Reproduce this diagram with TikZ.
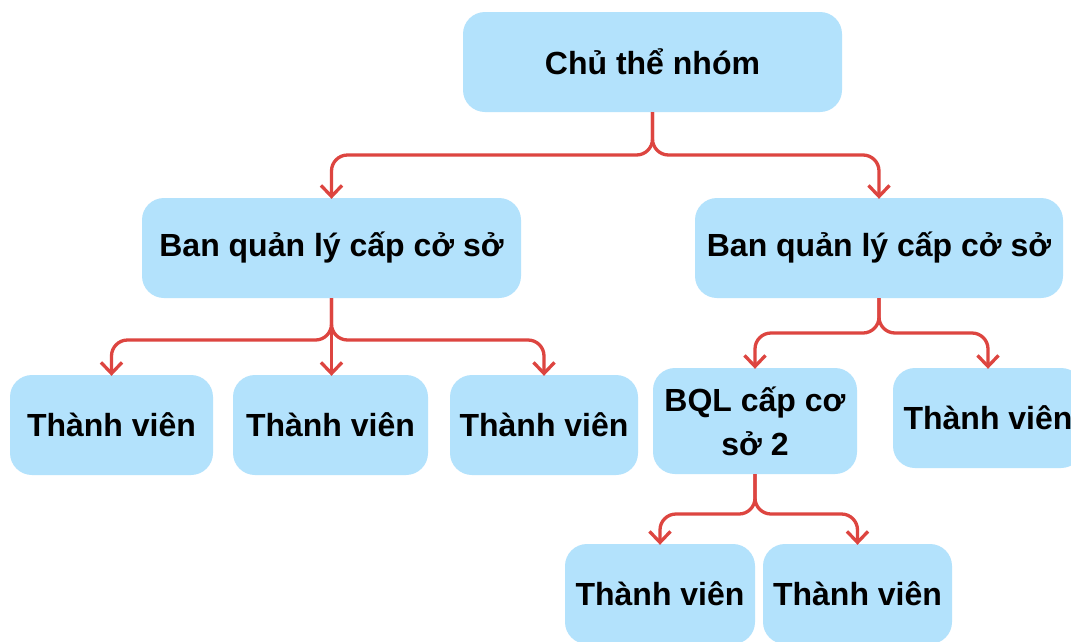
\documentclass[tikz,border=0pt]{standalone}
\usepackage{fontspec}
\setmainfont{Liberation Sans}
\usetikzlibrary{arrows.meta}
\definecolor{boxfill}{HTML}{B3E2FC}
\definecolor{linkred}{HTML}{DD4540}
\tikzset{
  box/.style={fill=boxfill, draw=none, rounded corners=22pt, inner sep=0pt,
    font=\fontsize{32}{44}\selectfont\bfseries, text=black, align=center},
  link/.style={draw=linkred, line width=3.3pt, rounded corners=16pt,
    -{Straight Barb[length=11pt,width=21pt,line width=3.3pt]}},
}
\begin{document}
\begin{tikzpicture}[x=1pt,y=-1pt]
\useasboundingbox (0,0) rectangle (1071,641);
\fill[white] (0,0) rectangle (1071,641);
\node[box, minimum width=379pt, minimum height=100pt] (root) at (652.5,62) {Chủ thể nhóm};
\node[box, minimum width=379pt, minimum height=100pt] (ba) at (331.5,248) {Ban quản lý cấp cở sở};
\node[box, minimum width=368pt, minimum height=100pt] (bb) at (879,248) {Ban quản lý cấp cở sở};
\node[box, minimum width=203pt, minimum height=100pt] (t1) at (111.5,425) {Thành viên};
\node[box, minimum width=195pt, minimum height=100pt] (t2) at (330.5,425) {Thành viên};
\node[box, minimum width=188pt, minimum height=100pt] (t3) at (544,425) {Thành viên};
\node[box, minimum width=204pt, minimum height=106pt] (q2) at (755,421) {BQL cấp cơ\\sở 2};
\node[box, minimum width=190pt, minimum height=100pt] (t4) at (988,418) {Thành viên};
\node[box, minimum width=190pt, minimum height=100pt] (t5) at (660,594) {Thành viên};
\node[box, minimum width=189pt, minimum height=100pt] (t6) at (857.5,594) {Thành viên};
% root -> level 1
\draw[link] (root.south) |- (331.5,155) -- ([yshift=-1pt]ba.north);
\draw[link] (root.south) |- (879,155) -- ([yshift=-1pt]bb.north);
% ba -> members
\draw[link] (ba.south) |- (111.5,340) -- ([yshift=-1pt]t1.north);
\draw[link] (ba.south) -- ([yshift=-1pt]ba.south |- t2.north);
\draw[link] (ba.south) |- (544,340) -- ([yshift=-1pt]t3.north);
% bb -> children
\draw[link] (bb.south) |- (755,333) -- ([yshift=-1pt]q2.north);
\draw[link] (bb.south) |- (988,333) -- ([yshift=-1pt]t4.north);
% q2 -> members
\draw[link] (q2.south) |- (660,514) -- ([yshift=-1pt]t5.north);
\draw[link] (q2.south) |- (857.5,514) -- ([yshift=-1pt]t6.north);
\end{tikzpicture}
\end{document}
